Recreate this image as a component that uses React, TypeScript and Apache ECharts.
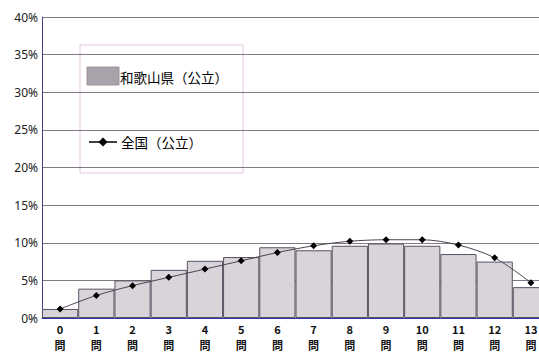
import React, { useEffect, useRef } from "react";
import * as echarts from "echarts";

// Number of correct answers (0〜13問) and share of students (%)
const categories = ["0", "1", "2", "3", "4", "5", "6", "7", "8", "9", "10", "11", "12", "13"];
const wakayamaShare = [1.2, 3.9, 5.0, 6.4, 7.6, 8.1, 9.4, 9.0, 9.6, 9.9, 9.6, 8.5, 7.5, 4.1];
const nationalShare = [1.2, 3.0, 4.3, 5.4, 6.5, 7.6, 8.7, 9.6, 10.2, 10.4, 10.4, 9.7, 8.0, 4.7];
const seriesNames = ["和歌山県（公立）", "全国（公立）"];
const yMax = 40;
const yStep = 5;

const JP_FONT = "'Noto Sans CJK JP', 'Noto Sans', sans-serif";

export default function App() {
  const ref = useRef<HTMLDivElement>(null);

  useEffect(() => {
    if (!ref.current) return;
    const chart = echarts.init(ref.current, null, { renderer: "svg" });

    const legendX = 80;
    const legendY = 45;

    chart.setOption({
      animation: false,
      backgroundColor: "#ffffff",
      grid: {
        left: 42,
        top: 17,
        bottom: 36,
        right: -10,
        outerBoundsMode: "none",
        containLabel: false,
      },
      xAxis: {
        type: "category",
        data: categories,
        boundaryGap: true,
        axisLine: { show: true, lineStyle: { color: "#3535a5", width: 1 } },
        axisTick: { show: false },
        axisLabel: {
          interval: 0,
          margin: 3,
          color: "#111",
          fontSize: 11,
          fontWeight: "bold",
          lineHeight: 16,
          fontFamily: JP_FONT,
          formatter: (v: string) => `${v}\n問`,
        },
        splitLine: { show: false },
      },
      yAxis: {
        type: "value",
        min: 0,
        max: yMax,
        interval: yStep,
        axisLine: { show: true, lineStyle: { color: "#4a3a8a", width: 1 } },
        axisTick: { show: false },
        axisLabel: {
          margin: 4,
          color: "#222",
          fontSize: 12,
          fontFamily: "'Noto Sans', sans-serif",
          formatter: "{value}%",
        },
        splitLine: { show: true, lineStyle: { color: "#807884", width: 1 } },
      },
      series: [
        {
          name: seriesNames[0],
          type: "bar",
          data: wakayamaShare,
          barCategoryGap: "0%",
          itemStyle: {
            color: "#d8d4da",
            borderColor: "#5a5060",
            borderWidth: 1,
          },
          z: 2,
        },
        {
          name: seriesNames[1],
          type: "line",
          data: nationalShare,
          smooth: 0.3,
          symbol: "diamond",
          symbolSize: 7,
          itemStyle: { color: "#000000" },
          lineStyle: { color: "#4a4450", width: 1 },
          z: 3,
        },
      ],
      graphic: [
        {
          type: "group",
          z: 100,
          children: [
            {
              type: "rect",
              shape: { x: legendX, y: legendY, width: 163, height: 128 },
              style: { fill: "#ffffff", stroke: "#e4c4e4", lineWidth: 1 },
            },
            {
              type: "rect",
              shape: { x: 87, y: 67, width: 32, height: 18 },
              style: { fill: "#a8a2aa", stroke: "#9a949c", lineWidth: 1 },
            },
            {
              type: "text",
              x: 120,
              y: 77,
              style: {
                text: seriesNames[0],
                fill: "#000",
                fontSize: 13.5,
                fontFamily: JP_FONT,
                verticalAlign: "middle",
                align: "left",
              },
            },
            {
              type: "line",
              shape: { x1: 89, y1: 142, x2: 117, y2: 142 },
              style: { stroke: "#000", lineWidth: 1.5 },
            },
            {
              type: "polygon",
              shape: { points: [[103, 137.5], [107.5, 142], [103, 146.5], [98.5, 142]] },
              style: { fill: "#000" },
            },
            {
              type: "text",
              x: 121,
              y: 142,
              style: {
                text: seriesNames[1],
                fill: "#000",
                fontSize: 13.5,
                fontFamily: JP_FONT,
                verticalAlign: "middle",
                align: "left",
              },
            },
          ],
        },
      ],
    });

    return () => chart.dispose();
  }, []);

  return (
    <div
      ref={ref}
      style={{ position: "absolute", left: 0, top: 0, width: 539, height: 354, background: "#fff" }}
    />
  );
}
